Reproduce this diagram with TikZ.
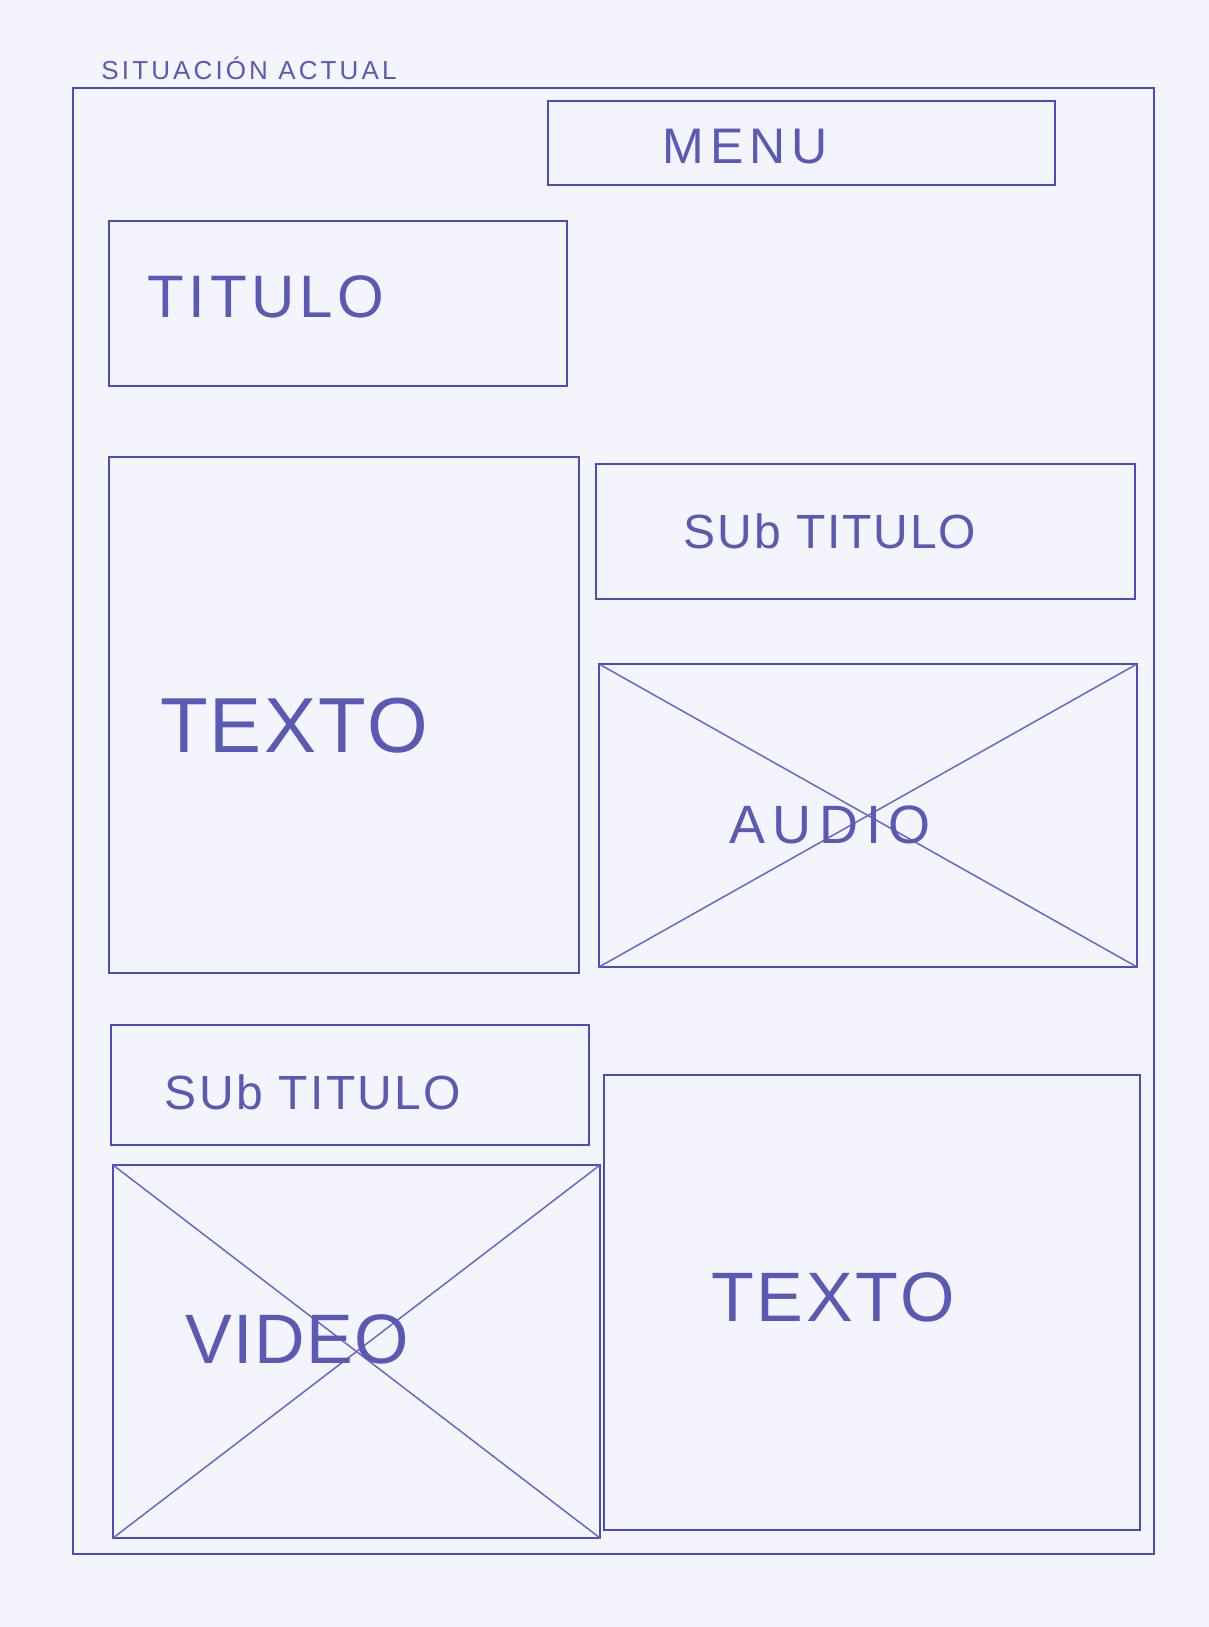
\documentclass[tikz,border=0pt]{standalone}
\usepackage{fontspec}
\setmainfont{Liberation Sans}
\definecolor{paper}{HTML}{F4F5FC}
\definecolor{ink}{HTML}{4C4CBE}
\definecolor{pencil}{HTML}{5A5AB4}
\tikzset{
  box/.style={draw=ink, line width=2.4pt, inner sep=0pt, outer sep=0pt, anchor=north west},
  cross/.style={draw=ink!85, line width=1.5pt},
  lbl/.style={text=pencil, inner sep=0pt, font=#1},
}
\newcommand{\hw}[2]{\fontsize{#1}{#1}\selectfont\addfontfeature{LetterSpace=#2}}
\begin{document}
\begin{tikzpicture}[x=1pt,y=-1pt]
\fill[paper] (0,0) rectangle (1209,1627);
\useasboundingbox (0,0) rectangle (1209,1627);
% outer frame
\node[box, minimum width=1081pt, minimum height=1466pt] (frame) at (73,88) {};
\node[lbl={\hw{26}{12}}] (title) at (249,68) {SITUACIÓN ACTUAL};
% menu
\node[box, minimum width=507pt, minimum height=84pt] (menu) at (548,101) {};
\node[lbl={\hw{50}{12}}] (menut) at (745,147) {MENU};
% titulo
\node[box, minimum width=458pt, minimum height=165pt] (titulo) at (109,221) {};
\node[lbl={\hw{60}{8}}] (titulot) at (266,297) {TITULO};
% texto left
\node[box, minimum width=470pt, minimum height=516pt] (textol) at (109,457) {};
\node[lbl={\hw{78}{3}}] (textolt) at (294,726) {TEXTO};
% subtitulo right
\node[box, minimum width=539pt, minimum height=135pt] (subr) at (596,464) {};
\node[lbl={\hw{48}{4}}] (subrt) at (830,531) {SUb TITULO};
% audio
\node[box, minimum width=538pt, minimum height=303pt] (audio) at (599,664) {};
\draw[cross] (audio.north west) -- (audio.south east);
\draw[cross] (audio.south west) -- (audio.north east);
\node[lbl={\hw{54}{14}}] (audiot) at (830,825) {AUDIO};
% subtitulo left
\node[box, minimum width=478pt, minimum height=120pt] (subl) at (111,1025) {};
\node[lbl={\hw{48}{5}}] (sublt) at (313,1092) {SUb TITULO};
% video
\node[box, minimum width=487pt, minimum height=373pt] (video) at (113,1165) {};
\draw[cross] (video.north west) -- (video.south east);
\draw[cross] (video.south west) -- (video.north east);
\node[lbl={\hw{70}{2}}] (videot) at (297,1339) {VIDEO};
% texto right
\node[box, minimum width=536pt, minimum height=455pt] (textor) at (604,1075) {};
\node[lbl={\hw{70}{4}}] (textort) at (833,1297) {TEXTO};
\end{tikzpicture}
\end{document}
